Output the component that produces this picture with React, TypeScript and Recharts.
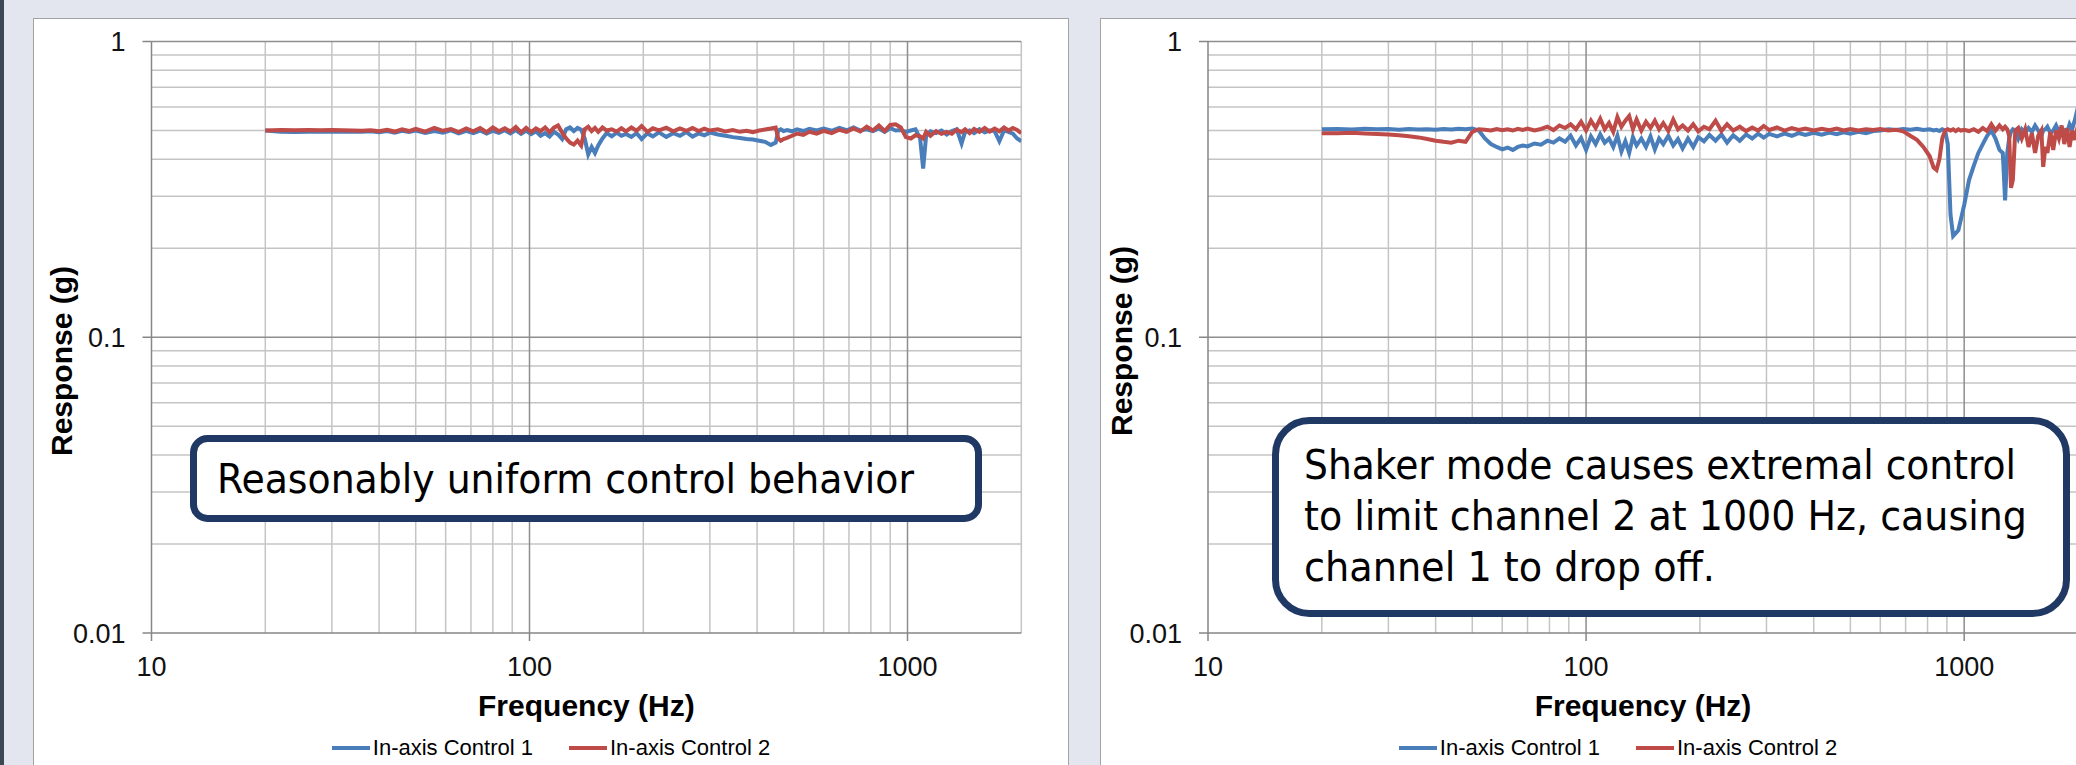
import React from 'react';
import { LineChart, Line, XAxis, YAxis, ReferenceLine, Legend, Label } from 'recharts';

// ---------- data ----------
const SERIES_NAMES = ['In-axis Control 1', 'In-axis Control 2'];
const SERIES_COLORS = ['#4a7ebb', '#be4b48'];

const X_TICKS = [10, 100, 1000];
const Y_TICKS = [0.01, 0.1, 1];
const X_MINOR = [20, 30, 40, 50, 60, 70, 80, 90, 200, 300, 400, 500, 600, 700, 800, 900, 2000];
const X_MAJOR = [100, 1000];
const Y_MINOR = [0.02, 0.03, 0.04, 0.05, 0.06, 0.07, 0.08, 0.09, 0.2, 0.3, 0.4, 0.5, 0.6, 0.7, 0.8, 0.9];
const Y_MAJOR = [0.1, 1];

const LEFT_FREQ = [20, 22, 24, 26, 28, 30, 32, 34, 36, 38, 40, 42, 44, 46, 48, 50, 53, 56, 59, 62, 65, 68, 71, 74, 77, 80, 83, 86, 89, 92, 95, 98, 101, 104, 107, 110, 113, 116, 119, 122, 125, 128, 131, 134, 137, 140, 143, 146, 149, 152, 156, 160, 165, 170, 175, 180, 186, 192, 198, 205, 212, 220, 230, 240, 250, 260, 270, 280, 290, 300, 315, 330, 345, 360, 375, 390, 405, 420, 435, 448, 455, 462, 470, 480, 495, 510, 530, 550, 575, 600, 630, 660, 690, 720, 750, 780, 810, 840, 870, 900, 930, 960, 990, 1020, 1050, 1080, 1100, 1120, 1150, 1190, 1230, 1270, 1310, 1350, 1390, 1420, 1460, 1500, 1550, 1600, 1650, 1700, 1750, 1800, 1850, 1900, 1950, 2000];
const LEFT_C1 = [0.5, 0.495, 0.494, 0.495, 0.495, 0.496, 0.495, 0.496, 0.495, 0.497, 0.493, 0.498, 0.492, 0.499, 0.494, 0.5, 0.491, 0.498, 0.492, 0.501, 0.489, 0.499, 0.49, 0.5, 0.488, 0.499, 0.491, 0.501, 0.489, 0.502, 0.487, 0.5, 0.486, 0.497, 0.48, 0.49, 0.477, 0.495, 0.485, 0.468, 0.505, 0.512, 0.498, 0.51, 0.503, 0.47, 0.415, 0.44, 0.42, 0.445, 0.47, 0.49, 0.478, 0.492, 0.48, 0.487, 0.476, 0.49, 0.468, 0.489, 0.478, 0.493, 0.476, 0.49, 0.48, 0.494, 0.477, 0.489, 0.482, 0.492, 0.485, 0.48, 0.475, 0.472, 0.468, 0.466, 0.462, 0.458, 0.447, 0.455, 0.5, 0.505, 0.498, 0.502, 0.497, 0.505, 0.498, 0.507, 0.5, 0.508, 0.499, 0.51, 0.501, 0.512, 0.5, 0.505, 0.498, 0.508, 0.495, 0.51, 0.5, 0.502, 0.495, 0.5, 0.505, 0.47, 0.372, 0.48, 0.497, 0.49, 0.5, 0.485, 0.498, 0.505, 0.452, 0.495, 0.5, 0.49, 0.505, 0.493, 0.5, 0.498, 0.46, 0.5, 0.495, 0.488, 0.47, 0.46];
const LEFT_C2 = [0.5, 0.502, 0.501, 0.502, 0.501, 0.502, 0.501, 0.5, 0.499, 0.501, 0.497, 0.503, 0.496, 0.505, 0.498, 0.507, 0.496, 0.51, 0.499, 0.506, 0.494, 0.508, 0.497, 0.51, 0.494, 0.512, 0.497, 0.509, 0.496, 0.514, 0.493, 0.51, 0.494, 0.508, 0.498, 0.512, 0.494, 0.511, 0.52, 0.492, 0.47, 0.455, 0.448, 0.462, 0.445, 0.505, 0.515, 0.498, 0.51, 0.495, 0.512, 0.5, 0.505, 0.496, 0.509, 0.497, 0.512, 0.499, 0.518, 0.495, 0.509, 0.501, 0.511, 0.497, 0.508, 0.499, 0.51, 0.498, 0.507, 0.5, 0.505, 0.496, 0.502, 0.495, 0.499, 0.494, 0.5, 0.504, 0.508, 0.512, 0.47, 0.462, 0.468, 0.472, 0.48, 0.488, 0.483, 0.495, 0.488, 0.499, 0.49, 0.503, 0.495, 0.508, 0.496, 0.515, 0.5, 0.52, 0.498, 0.522, 0.525, 0.512, 0.475, 0.47, 0.482, 0.478, 0.47, 0.495, 0.48, 0.498, 0.487, 0.495, 0.488, 0.503, 0.494, 0.505, 0.49, 0.506, 0.495, 0.51, 0.496, 0.508, 0.497, 0.512, 0.5, 0.51, 0.502, 0.49];

const RIGHT_FREQ = [20, 22, 24, 26, 28, 30, 32, 34, 36, 38, 40, 42, 44, 46, 48, 50, 52, 54, 56, 58, 60, 62, 64, 66, 68, 70, 73, 76, 79, 82, 85, 88, 91, 94, 97, 100, 103, 106, 109, 112, 115, 118, 121, 124, 127, 130, 133, 136, 140, 144, 148, 152, 156, 160, 165, 170, 175, 180, 186, 192, 198, 205, 212, 220, 228, 236, 245, 255, 265, 275, 285, 295, 305, 320, 335, 350, 365, 380, 400, 420, 440, 460, 480, 500, 525, 550, 575, 600, 630, 660, 690, 720, 750, 780, 810, 830, 845, 860, 875, 890, 905, 920, 935, 950, 965, 980, 1000, 1030, 1060, 1090, 1120, 1150, 1180, 1210, 1240, 1265, 1283, 1300, 1315, 1330, 1345, 1365, 1390, 1420, 1450, 1480, 1510, 1540, 1570, 1600, 1618, 1640, 1660, 1690, 1720, 1750, 1780, 1810, 1840, 1870, 1900, 1930, 1960, 2000];
const RIGHT_C1 = [0.505, 0.506, 0.504, 0.507, 0.505, 0.506, 0.503, 0.506, 0.504, 0.505, 0.503, 0.506, 0.504, 0.507, 0.505, 0.508, 0.5, 0.47, 0.45, 0.44, 0.432, 0.438, 0.43, 0.44, 0.445, 0.442, 0.452, 0.448, 0.462, 0.455, 0.47, 0.458, 0.48, 0.445, 0.472, 0.43, 0.478, 0.45, 0.485, 0.455, 0.47, 0.44, 0.48, 0.425, 0.46, 0.42, 0.475, 0.445, 0.47, 0.44, 0.478, 0.432, 0.47, 0.45, 0.48, 0.445, 0.468, 0.435, 0.47, 0.44, 0.475, 0.46, 0.483, 0.462, 0.485, 0.455, 0.482, 0.462, 0.485, 0.47, 0.488, 0.473, 0.487, 0.478, 0.488, 0.48, 0.49, 0.483, 0.491, 0.484, 0.492, 0.486, 0.493, 0.488, 0.495, 0.49, 0.498, 0.5, 0.505, 0.502, 0.506, 0.503, 0.507, 0.502, 0.505, 0.5, 0.503, 0.498, 0.505, 0.5, 0.45, 0.26, 0.22, 0.225, 0.23, 0.25, 0.28, 0.34, 0.38, 0.42, 0.45, 0.48, 0.5, 0.47, 0.43, 0.42, 0.29, 0.42, 0.47, 0.495, 0.505, 0.5, 0.47, 0.505, 0.49, 0.51, 0.495, 0.52, 0.5, 0.48, 0.5, 0.505, 0.515, 0.49, 0.5, 0.52, 0.495, 0.51, 0.5, 0.49, 0.525, 0.505, 0.54, 0.6];
const RIGHT_C2 = [0.49, 0.49, 0.491, 0.489, 0.487, 0.485, 0.482, 0.478, 0.474, 0.468, 0.462, 0.458, 0.455, 0.462, 0.458, 0.495, 0.505, 0.503, 0.5, 0.506, 0.501, 0.505, 0.5, 0.507, 0.502, 0.508, 0.5, 0.506, 0.515, 0.502, 0.52, 0.51, 0.525, 0.505, 0.535, 0.5, 0.54, 0.51, 0.548, 0.505, 0.53, 0.495, 0.555, 0.515, 0.54, 0.56, 0.505, 0.545, 0.5, 0.535, 0.51, 0.54, 0.505, 0.53, 0.498, 0.545, 0.505, 0.52, 0.5, 0.525, 0.497, 0.515, 0.505, 0.54, 0.498, 0.525, 0.5, 0.515, 0.498, 0.512, 0.5, 0.518, 0.502, 0.512, 0.5, 0.51, 0.502, 0.508, 0.5, 0.507, 0.501, 0.508, 0.5, 0.506, 0.5, 0.505, 0.502, 0.506, 0.5, 0.503, 0.497, 0.48, 0.465, 0.44, 0.41, 0.375, 0.368, 0.4, 0.47, 0.5, 0.505, 0.5, 0.505, 0.498, 0.505, 0.5, 0.503, 0.498, 0.505, 0.495, 0.51, 0.498, 0.525, 0.5, 0.52, 0.505, 0.515, 0.505, 0.48, 0.32, 0.34, 0.5, 0.51, 0.47, 0.505, 0.44, 0.49, 0.42, 0.48, 0.5, 0.377, 0.44, 0.42, 0.495, 0.43, 0.5, 0.47, 0.52, 0.45, 0.51, 0.44, 0.5, 0.465, 0.52];

const LEFT_NOTE = ['Reasonably uniform control behavior'];
const RIGHT_NOTE = ['Shaker mode causes extremal control', 'to limit channel 2 at 1000 Hz, causing', 'channel 1 to drop off.'];

// ---------- helpers ----------
const build = (freq: number[], vals: number[]) => freq.map((f, i) => ({ f, v: vals[i] }));
const ARIAL = '"Liberation Sans", Arial, sans-serif';
const NOTE_FONT = '"DejaVu Sans Condensed", "DejaVu Sans", sans-serif';

const LegendContent = (props: any) => {
  const payload = props.payload || [];
  return (
    <div style={{ display: 'flex', justifyContent: 'center', alignItems: 'center', gap: 36, fontFamily: ARIAL, fontSize: 22, lineHeight: '26px', color: '#000' }}>
      {payload.map((p: any) => (
        <div key={p.value} style={{ display: 'flex', alignItems: 'center' }}>
          <span style={{ display: 'inline-block', width: 38, height: 4, background: p.color, marginRight: 3 }} />
          <span>{p.value}</span>
        </div>
      ))}
    </div>
  );
};

type PanelProps = {
  left: number;
  marginLeft: number;
  marginRight: number;
  yLabelX: number;
  yLabelY: number;
  c1: { f: number; v: number }[];
  c2: { f: number; v: number }[];
};

const W = 1036;
const H = 747;

function Chart({ left, marginLeft, marginRight, yLabelX, yLabelY, c1, c2 }: PanelProps) {
  return (
    <div style={{ position: 'absolute', left, top: 18 }}>
      <LineChart width={W} height={H} margin={{ top: 23.5, right: marginRight, bottom: 72, left: marginLeft }}>
        <XAxis
          dataKey="f"
          type="number"
          scale="log"
          domain={[10, 2000]}
          allowDataOverflow
          ticks={X_TICKS}
          height={60}
          tickSize={8}
          tickMargin={16}
          tick={{ fontSize: 27, fill: '#111', fontFamily: ARIAL }}
          axisLine={{ stroke: '#868686', strokeWidth: 1.5 }}
          tickLine={{ stroke: '#868686', strokeWidth: 1.5 }}
        >
          <Label
            content={(p: any) => {
              const vb = p.viewBox || {};
              return (
                <text x={vb.x + vb.width / 2} y={698} textAnchor="middle" fontFamily={ARIAL} fontWeight="bold" fontSize={30} fill="#000">
                  Frequency (Hz)
                </text>
              );
            }}
          />
        </XAxis>
        <YAxis
          type="number"
          scale="log"
          domain={[0.01, 1]}
          allowDataOverflow
          ticks={Y_TICKS}
          width={100}
          tickSize={9}
          tickMargin={17}
          tickFormatter={(v: number) => String(v)}
          tick={{ fontSize: 27, fill: '#111', fontFamily: ARIAL }}
          axisLine={{ stroke: '#868686', strokeWidth: 1.5 }}
          tickLine={{ stroke: '#868686', strokeWidth: 1.5 }}
        >
          <Label
            content={() => (
              <text x={yLabelX} y={yLabelY} transform={`rotate(-90, ${yLabelX}, ${yLabelY})`} textAnchor="middle" dominantBaseline="central" fontFamily={ARIAL} fontWeight="bold" fontSize={30} fill="#000">
                Response (g)
              </text>
            )}
          />
        </YAxis>
        {X_MINOR.map((x) => (
          <ReferenceLine key={'xm' + x} x={x} stroke="#c4c4c4" strokeWidth={1.5} />
        ))}
        {Y_MINOR.map((y) => (
          <ReferenceLine key={'ym' + y} y={y} stroke="#c4c4c4" strokeWidth={1.5} />
        ))}
        {X_MAJOR.map((x) => (
          <ReferenceLine key={'xM' + x} x={x} stroke="#8e8e8e" strokeWidth={1.5} />
        ))}
        {Y_MAJOR.map((y) => (
          <ReferenceLine key={'yM' + y} y={y} stroke="#8e8e8e" strokeWidth={1.5} />
        ))}
        <Line data={c1} dataKey="v" name={SERIES_NAMES[0]} stroke={SERIES_COLORS[0]} strokeWidth={4} dot={false} type="linear" isAnimationActive={false} />
        <Line data={c2} dataKey="v" name={SERIES_NAMES[1]} stroke={SERIES_COLORS[1]} strokeWidth={4} dot={false} type="linear" isAnimationActive={false} />
        <Legend verticalAlign="middle" align="center" layout="horizontal" content={LegendContent} wrapperStyle={{ top: 717, left: 0, width: W, height: 26 }} />
      </LineChart>
    </div>
  );
}

export default function App() {
  const l1 = build(LEFT_FREQ, LEFT_C1);
  const l2 = build(LEFT_FREQ, LEFT_C2);
  const r1 = build(RIGHT_FREQ, RIGHT_C1);
  const r2 = build(RIGHT_FREQ, RIGHT_C2);
  const rightLens = [712, 723, 411];
  return (
    <div style={{ position: 'absolute', left: 0, top: 0, width: 2076, height: 765, overflow: 'hidden', background: '#e3e6ee' }}>
      <div style={{ position: 'absolute', left: 0, top: 0, width: 4, height: 765, background: '#3c4753' }} />
      <div style={{ position: 'absolute', left: 33, top: 18, width: W, height: 770, background: '#fff', border: '1.5px solid #a3a3a3', boxSizing: 'border-box' }} />
      <div style={{ position: 'absolute', left: 1100, top: 18, width: W, height: 770, background: '#fff', border: '1.5px solid #a3a3a3', boxSizing: 'border-box' }} />
      <Chart left={33} marginLeft={18.5} marginRight={47.7} yLabelX={28} yLabelY={343} c1={l1} c2={l2} />
      <Chart left={1100} marginLeft={8} marginRight={58} yLabelX={21} yLabelY={323} c1={r1} c2={r2} />
      <svg width={2076} height={765} style={{ position: 'absolute', left: 0, top: 0 }}>
        <rect x={193.5} y={438.5} width={785} height={80} rx={14} fill="#fff" stroke="#1f3864" strokeWidth={7} />
        {LEFT_NOTE.map((s) => (
          <text key={s} x={217} y={493} fontFamily={NOTE_FONT} fontSize={40} fill="#000" textLength={697} lengthAdjust="spacingAndGlyphs">
            {s}
          </text>
        ))}
        <rect x={1275.5} y={420.5} width={791} height={193} rx={34} fill="#fff" stroke="#1f3864" strokeWidth={7} />
        {RIGHT_NOTE.map((s, i) => (
          <text key={s} x={1304} y={479 + i * 51} fontFamily={NOTE_FONT} fontSize={40} fill="#000" textLength={rightLens[i]} lengthAdjust="spacingAndGlyphs">
            {s}
          </text>
        ))}
      </svg>
    </div>
  );
}
